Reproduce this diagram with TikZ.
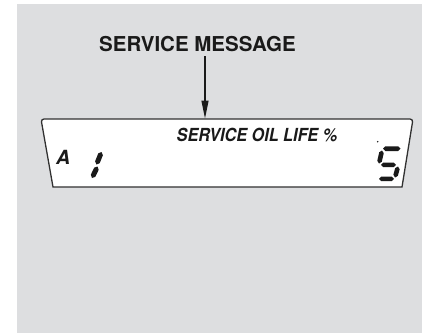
\documentclass[tikz,border=0pt]{standalone}
\usepackage{fontspec}
\setmainfont{TeX Gyre Heros}
\usepackage{graphicx}
\usetikzlibrary{arrows.meta,calc}
\definecolor{bggrey}{HTML}{DDDEE0}
\definecolor{inkc}{HTML}{1A1A1A}
\newcommand\lcdseg[3]{%
  \coordinate (sA) at (#1);
  \coordinate (sB) at (#2);
  \coordinate (sC) at ($(sA)!#3!(sB)$);
  \coordinate (sD) at ($(sB)!#3!(sA)$);
  \fill[inkc] (sA) -- ($(sC)!#3!90:(sB)$) -- ($(sD)!#3!-90:(sA)$) -- (sB)
    -- ($(sD)!#3!90:(sA)$) -- ($(sC)!#3!-90:(sB)$) -- cycle;}
\begin{document}
\begin{tikzpicture}[x=1pt,y=-1pt,
  titletext/.style={anchor=base,inner sep=0pt,text=inkc,font=\bfseries\fontsize{20.5}{24}\selectfont},
  lcdtext/.style={anchor=base west,inner sep=0pt,text=inkc},
  pointer/.style={draw=inkc,line width=1.3pt,-{Triangle[length=18pt,width=7pt]}},
  panel/.style={fill=white,draw=inkc!90,line width=1.3pt}]
\useasboundingbox (0,0) rectangle (422,333);
\fill[white] (0,0) rectangle (422,333);
\fill[bggrey] (17,4) rectangle (422,333);
% display panel
\draw[panel] (53,187) [rounded corners=3pt] -- (41,119) -- (413,119) [sharp corners] -- (402,187) -- cycle;
% title and arrow
\node[titletext] (title) at (197.5,51) {SERVICE MESSAGE};
\coordinate (astart) at (205,56);
\coordinate (tip) at (205,118.5);
\draw[pointer] (astart) -- (tip);
% LCD texts
\node[lcdtext,font=\bfseries\itshape\fontsize{18}{20}\selectfont] (msg) at (176.5,141.7) {\scalebox{0.9}[1]{SERVICE OIL LIFE \%}};
\node[lcdtext,font=\bfseries\itshape\fontsize{19.5}{22}\selectfont] (amode) at (56,164) {A};
% digit 1
\lcdseg{101.5,152}{96.5,164.5}{2.5pt}
\lcdseg{97.5,166.5}{92,178}{2.5pt}
% digit 5
\lcdseg{383,148.7}{400.5,148.7}{2.3pt}
\lcdseg{382,150.5}{379,163.5}{2.3pt}
\lcdseg{381,164.8}{396,164.8}{2.3pt}
\lcdseg{398,166.5}{395,177.5}{2.3pt}
\lcdseg{379,178.8}{394,178.8}{2.3pt}
% small dot
\fill[inkc] (377.7,141.7) circle (0.8pt);
\end{tikzpicture}
\end{document}
